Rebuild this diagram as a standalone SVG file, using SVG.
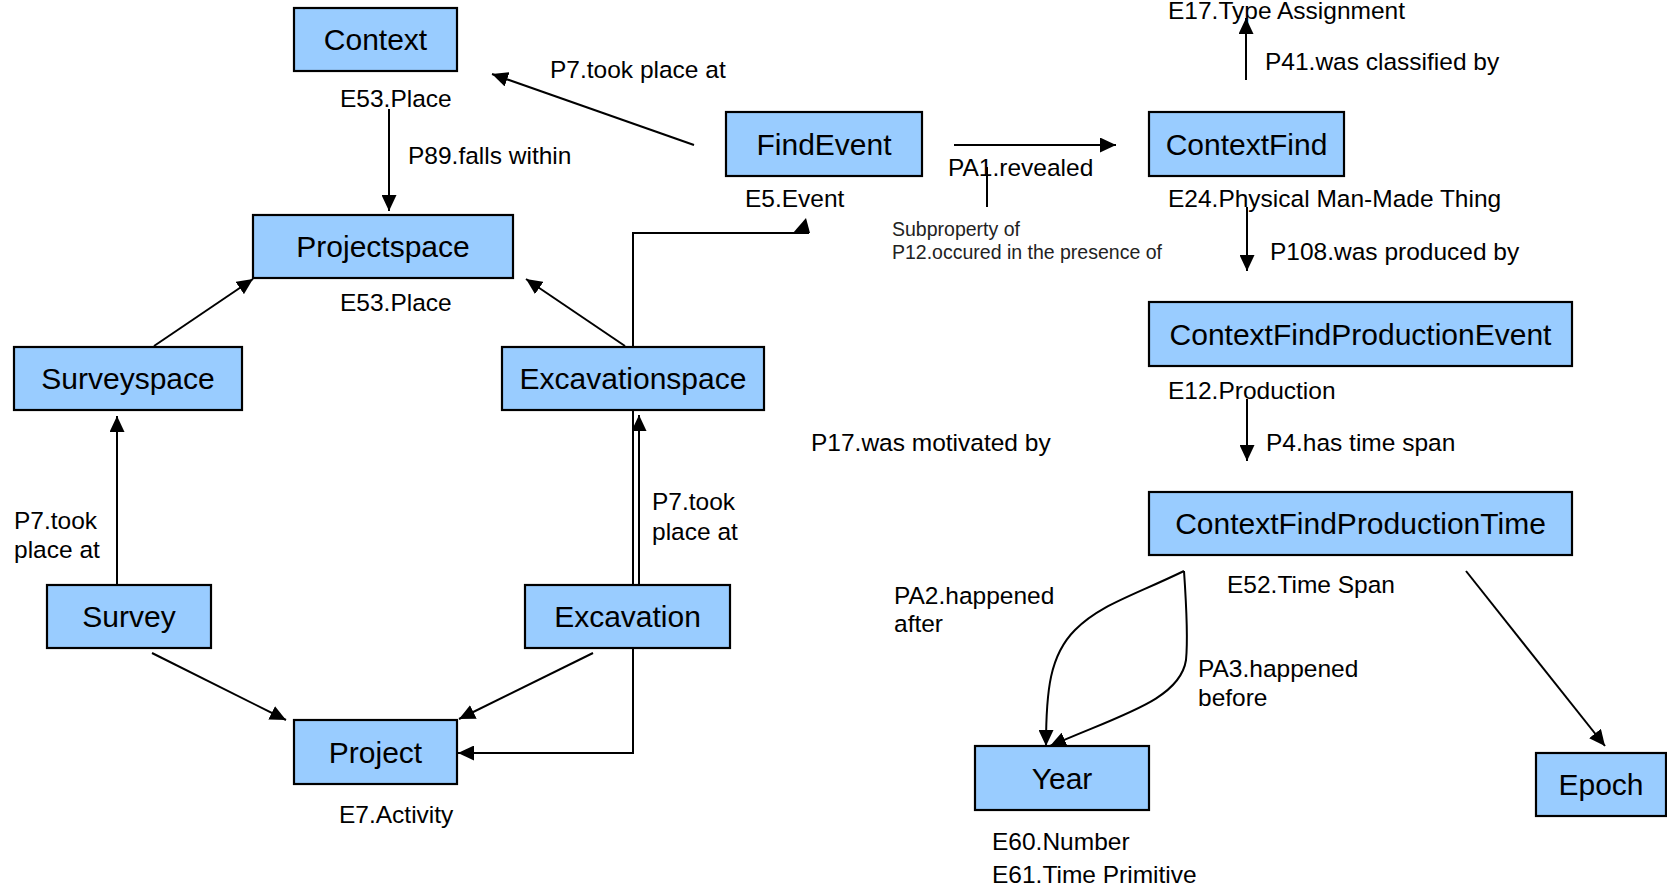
<svg xmlns="http://www.w3.org/2000/svg" width="1667" height="888" viewBox="0 0 1667 888">
<style>
.box{fill:#99CCFF;stroke:#000;stroke-width:2.2}
.nt{font-family:"Liberation Sans",Arial,sans-serif;font-size:30px;fill:#000;text-anchor:middle}
.lb{font-family:"Liberation Sans",Arial,sans-serif;font-size:24.5px;fill:#000}
.sm{font-family:"Liberation Sans",Arial,sans-serif;font-size:19.5px;fill:#222}
.ln{fill:none;stroke:#000;stroke-width:2}
.ar{marker-end:url(#ah)}
</style>
<defs>
<marker id="ah" markerUnits="userSpaceOnUse" markerWidth="17" markerHeight="15" refX="16" refY="7.5" orient="auto">
<path d="M0,0 L16,7.5 L0,15 z" fill="#000"/>
</marker>
</defs>
<rect width="1667" height="888" fill="#fff"/>
<g id="connectors">
<line class="ln ar" x1="694" y1="145" x2="492" y2="74"/>
<line class="ln ar" x1="389" y1="109" x2="389" y2="211"/>
<line class="ln ar" x1="154" y1="346" x2="253" y2="279"/>
<line class="ln ar" x1="625" y1="346" x2="526" y2="279"/>
<line class="ln ar" x1="117" y1="585" x2="117" y2="416"/>
<line class="ln ar" x1="639" y1="585" x2="639" y2="415"/>
<path class="ln ar" d="M809,233 H633 V753 H458"/>
<polygon points="793,233 806,218 810,233" fill="#000"/>
<line class="ln ar" x1="152" y1="653" x2="286" y2="720"/>
<line class="ln ar" x1="593" y1="653" x2="459" y2="719"/>
<line class="ln ar" x1="954" y1="145" x2="1116" y2="145"/>
<line class="ln" x1="987" y1="167" x2="987" y2="207"/>
<line class="ln ar" x1="1246" y1="80" x2="1246" y2="18"/>
<line class="ln ar" x1="1247" y1="207" x2="1247" y2="271"/>
<line class="ln ar" x1="1247" y1="399" x2="1247" y2="461"/>
<path class="ln ar" d="M1184,571 C1130,597 1100,605 1075,630 C1050,655 1046,690 1046,746"/>
<path class="ln ar" d="M1184,571 C1186,600 1188,640 1186,660 C1180,700 1120,715 1050,746"/>
<line class="ln ar" x1="1466" y1="571" x2="1605" y2="746"/>
</g>
<g id="context"><rect class="box" x="294" y="8" width="163" height="63"/><text class="nt" x="375.5" y="50">Context</text></g>
<g id="projectspace"><rect class="box" x="253" y="215" width="260" height="63"/><text class="nt" x="383" y="257">Projectspace</text></g>
<g id="findevent"><rect class="box" x="726" y="112" width="196" height="64"/><text class="nt" x="824" y="155">FindEvent</text></g>
<g id="contextfind"><rect class="box" x="1149" y="112" width="195" height="64"/><text class="nt" x="1246.5" y="155">ContextFind</text></g>
<g id="contextfindproductionevent"><rect class="box" x="1149" y="302" width="423" height="64"/><text class="nt" x="1360.5" y="345">ContextFindProductionEvent</text></g>
<g id="contextfindproductiontime"><rect class="box" x="1149" y="492" width="423" height="63"/><text class="nt" x="1360.5" y="534">ContextFindProductionTime</text></g>
<g id="surveyspace"><rect class="box" x="14" y="347" width="228" height="63"/><text class="nt" x="128" y="389">Surveyspace</text></g>
<g id="excavationspace"><rect class="box" x="502" y="347" width="262" height="63"/><text class="nt" x="633" y="389">Excavationspace</text></g>
<g id="survey"><rect class="box" x="47" y="585" width="164" height="63"/><text class="nt" x="129" y="627">Survey</text></g>
<g id="excavation"><rect class="box" x="525" y="585" width="205" height="63"/><text class="nt" x="627.5" y="627">Excavation</text></g>
<g id="project"><rect class="box" x="294" y="720" width="163" height="64"/><text class="nt" x="375.5" y="763">Project</text></g>
<g id="year"><rect class="box" x="975" y="746" width="174" height="64"/><text class="nt" x="1062" y="789">Year</text></g>
<g id="epoch"><rect class="box" x="1536" y="753" width="130" height="63"/><text class="nt" x="1601" y="795">Epoch</text></g>
<g id="labels">
<text class="lb" x="340" y="107">E53.Place</text>
<text class="lb" x="408" y="164">P89.falls within</text>
<text class="lb" x="340" y="311">E53.Place</text>
<text class="lb" x="550" y="78">P7.took place at</text>
<text class="lb" x="745" y="207">E5.Event</text>
<text class="lb" x="948" y="176">PA1.revealed</text>
<text class="sm" x="892" y="236">Subproperty of</text>
<text class="sm" x="892" y="259">P12.occured in the presence of</text>
<text class="lb" x="1168" y="19">E17.Type Assignment</text>
<text class="lb" x="1265" y="70">P41.was classified by</text>
<text class="lb" x="1168" y="207">E24.Physical Man-Made Thing</text>
<text class="lb" x="1270" y="260">P108.was produced by</text>
<text class="lb" x="1168" y="399">E12.Production</text>
<text class="lb" x="1266" y="451">P4.has time span</text>
<text class="lb" x="811" y="451">P17.was motivated by</text>
<text class="lb" x="1227" y="593">E52.Time Span</text>
<text class="lb" x="894" y="604">PA2.happened</text>
<text class="lb" x="894" y="632">after</text>
<text class="lb" x="1198" y="677">PA3.happened</text>
<text class="lb" x="1198" y="706">before</text>
<text class="lb" x="992" y="850">E60.Number</text>
<text class="lb" x="992" y="883">E61.Time Primitive</text>
<text class="lb" x="14" y="529">P7.took</text>
<text class="lb" x="14" y="558">place at</text>
<text class="lb" x="652" y="510">P7.took</text>
<text class="lb" x="652" y="540">place at</text>
<text class="lb" x="339" y="823">E7.Activity</text>
</g>
</svg>
